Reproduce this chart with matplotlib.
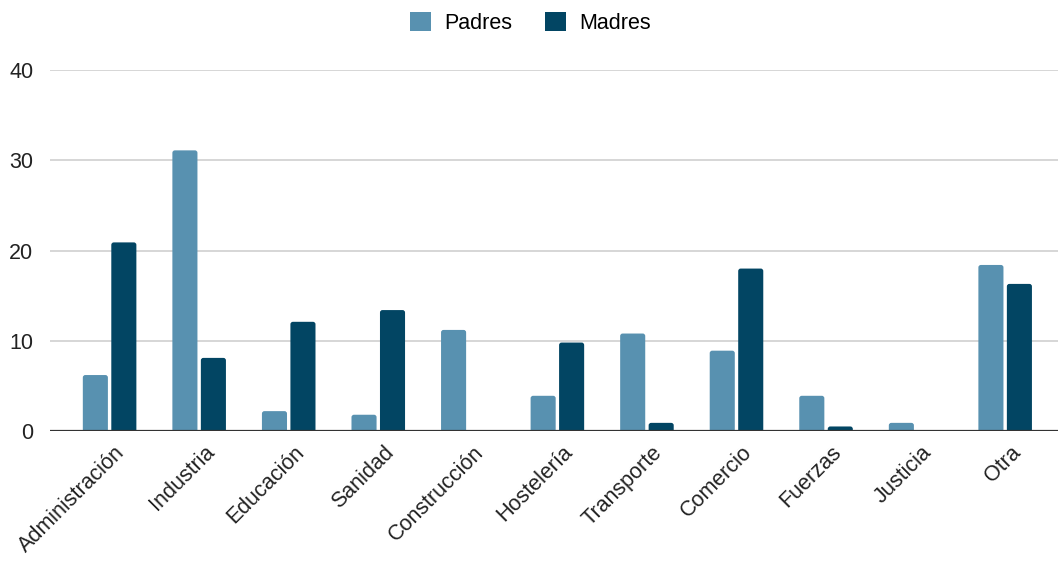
import numpy as np
import matplotlib.pyplot as plt
import matplotlib.transforms as mtransforms
from matplotlib.patches import FancyBboxPatch, Patch

plt.rcParams['font.family'] = ['Liberation Sans', 'DejaVu Sans']

categorias = ["Administración", "Industria", "Educación", "Sanidad", "Construcción",
              "Hostelería", "Transporte", "Comercio", "Fuerzas", "Justicia", "Otra"]
padres = [6.2, 31.1, 2.2, 1.8, 11.2, 3.9, 10.8, 8.9, 3.9, 0.9, 18.4]
madres = [20.9, 8.1, 12.1, 13.4, 0.0, 9.8, 0.9, 18.0, 0.5, 0.0, 16.3]

color_padres = '#5891b0'
color_madres = '#024563'

fig = plt.figure(figsize=(10.58, 5.65), dpi=100)
ax = fig.add_axes([0.0473, 0.2372, 0.9527, 0.6388])

x = np.arange(len(categorias))
w = 0.28
off = 0.159
b1 = ax.bar(x - off, padres, w, color=color_padres, zorder=3)
b2 = ax.bar(x + off, madres, w, color=color_madres, zorder=3)

ax.set_ylim(0, 40)
ax.set_xlim(-0.665, 10.59)

# swap plain rectangles for ones with slightly rounded tops
r = 0.028
aspect = 9.9
for cont in (b1, b2):
    for rect in cont:
        h = rect.get_height()
        rect.set_visible(False)
        if h <= 0:
            continue
        ry = r * aspect
        p = FancyBboxPatch((rect.get_x(), -ry), rect.get_width(), h + ry,
                           boxstyle=f"round,pad=0,rounding_size={r}",
                           mutation_aspect=aspect, facecolor=rect.get_facecolor(),
                           edgecolor='none', zorder=3)
        ax.add_patch(p)

ax.set_yticks([0, 10, 20, 30, 40])
ax.yaxis.grid(True, color='#cccccc', linewidth=1.1, zorder=0)
ax.axhline(0, color='#333333', linewidth=1.6, zorder=4)

for s in ax.spines.values():
    s.set_visible(False)
ax.tick_params(axis='both', length=0)
ax.tick_params(axis='y', labelsize=15.5, pad=12, labelcolor='#222222')

ax.set_xticks(x)
ax.set_xticklabels(categorias, rotation=45, ha='right', rotation_mode='anchor',
                   fontsize=15.5, color='#222222')
shift = mtransforms.ScaledTranslation(0.05, -0.06, fig.dpi_scale_trans)
for lbl in ax.get_xticklabels():
    lbl.set_transform(lbl.get_transform() + shift)

handles = [Patch(facecolor=color_padres, label='Padres'),
           Patch(facecolor=color_madres, label='Madres')]
ax.legend(handles=handles, loc='upper center', bbox_to_anchor=(0.5 - 0.0473 / 2, 1.215),
          ncol=2, frameon=False, fontsize=15.5, handlelength=1.0, handleheight=1.0,
          columnspacing=1.5, handletextpad=0.6)

fig.savefig('out.png', dpi=100)
